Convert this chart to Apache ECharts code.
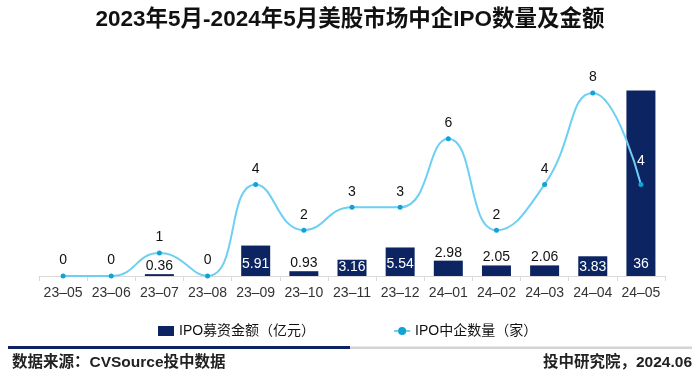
<!DOCTYPE html>
<html>
<head>
<meta charset="utf-8">
<script src="https://cdn.jsdelivr.net/npm/echarts@6/dist/echarts.min.js"></script>
<style>
html,body{margin:0;padding:0;background:#fff;}
#c{width:700px;height:379px;}
</style>
</head>
<body>
<div id="c"></div>
<script>
const categories = ['23–05','23–06','23–07','23–08','23–09','23–10','23–11','23–12','24–01','24–02','24–03','24–04','24–05'];
const amounts = [0, 0, 0.36, 0, 5.91, 0.93, 3.16, 5.54, 2.98, 2.05, 2.06, 3.83, 36];
const counts = [0, 0, 1, 0, 4, 2, 3, 3, 6, 2, 4, 8, 4];
const titleText = '2023年5月-2024年5月美股市场中企IPO数量及金额';
const barName = 'IPO募资金额（亿元）';
const lineName = 'IPO中企数量（家）';
const sourceText = '数据来源：CVSource投中数据';
const creditText = '投中研究院，2024.06';

const NAVY = '#0c2461';
const FONT = '"Liberation Sans", "Noto Sans CJK SC", sans-serif';

const barData = amounts.map(function (v) {
  const inside = v >= 3;
  return {
    value: v,
    label: {
      show: v > 0,
      position: inside ? 'insideBottom' : 'top',
      distance: inside ? (v < 4 ? 2 : 5) : 1,
      color: inside ? '#ffffff' : '#111111'
    }
  };
});
const lineData = counts.map(function (v, i) {
  const last = i === counts.length - 1;
  return {
    value: v,
    label: { color: last ? '#ffffff' : '#111111', distance: last ? 14 : 6 }
  };
});

const chart = echarts.init(document.getElementById('c'), null, { renderer: 'canvas' });
chart.setOption({
  animation: false,
  textStyle: { fontFamily: FONT },
  title: {
    text: titleText,
    left: 'center',
    top: 4,
    textStyle: { fontFamily: FONT, fontSize: 22.5, fontWeight: 'bold', color: '#111' }
  },
  grid: { left: 39, right: 35, top: 70, bottom: 103 },
  legend: {
    left: 153,
    top: 319,
    itemGap: 78,
    itemWidth: 16,
    itemHeight: 10,
    textStyle: { fontFamily: FONT, fontSize: 14, color: '#111' },
    data: [
      { name: barName, icon: 'rect' },
      { name: lineName, itemStyle: { borderWidth: 0 } }
    ]
  },
  xAxis: {
    type: 'category',
    data: categories,
    boundaryGap: true,
    axisLine: { lineStyle: { color: '#d9d9d9', width: 1 } },
    axisTick: { show: true, length: 5, interval: 0, lineStyle: { color: '#d9d9d9' } },
    axisLabel: { interval: 0, fontFamily: FONT, fontSize: 14, color: '#333', margin: 10 }
  },
  yAxis: [
    { type: 'value', min: 0, max: 40, show: false, splitLine: { show: false } },
    { type: 'value', min: 0, max: 9, show: false, splitLine: { show: false } }
  ],
  series: [
    {
      name: barName,
      type: 'bar',
      yAxisIndex: 0,
      barWidth: 29,
      itemStyle: { color: NAVY },
      label: { fontFamily: FONT, fontSize: 14 },
      data: barData,
      z: 2
    },
    {
      name: lineName,
      type: 'line',
      yAxisIndex: 1,
      smooth: 0.5,
      symbol: 'circle',
      symbolSize: 5,
      lineStyle: { color: '#6dd0f2', width: 2 },
      itemStyle: { color: '#13a2d6' },
      label: { show: true, position: 'top', fontFamily: FONT, fontSize: 14 },
      data: lineData,
      z: 5
    }
  ],
  graphic: [
    { type: 'rect', shape: { x: 8, y: 346, width: 342, height: 3 }, style: { fill: NAVY } },
    { type: 'rect', shape: { x: 350, y: 346.5, width: 342, height: 2.5 }, style: { fill: '#d4d4d4' } },
    { type: 'text', left: 12, top: 355, style: { text: sourceText, font: 'bold 15.5px ' + FONT, fill: '#222' } },
    { type: 'text', right: 8, top: 355, style: { text: creditText, font: 'bold 15.5px ' + FONT, fill: '#222' } }
  ]
});
</script>
</body>
</html>
